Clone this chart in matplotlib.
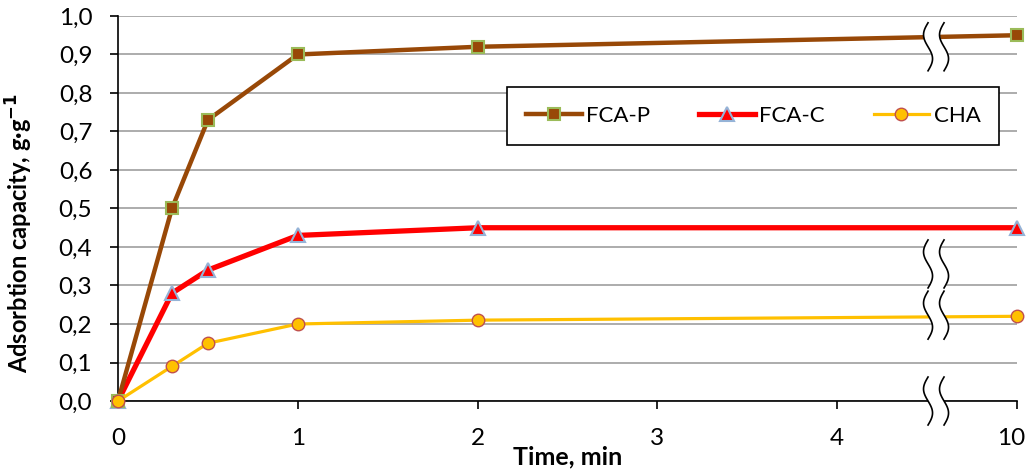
import numpy as np
import matplotlib
matplotlib.use('Agg')
import matplotlib.pyplot as plt
import matplotlib.transforms as mtransforms
from matplotlib.ticker import FuncFormatter

plt.rcParams['font.family'] = ['Lato', 'DejaVu Sans']

# data (time in min, last point is 10 min plotted after the axis break)
time_labels = ['0', '1', '2', '3', '4', '10']
x_pos = [0, 0.3, 0.5, 1, 2, 5]
fca_p = [0, 0.50, 0.73, 0.90, 0.92, 0.95]
fca_c = [0, 0.28, 0.34, 0.43, 0.45, 0.45]
cha = [0, 0.09, 0.15, 0.20, 0.21, 0.22]

fig = plt.figure(figsize=(10.27, 4.70), dpi=100)
ax = fig.add_axes([0.1149, 0.1468, 0.8754, 0.8192])

ax.plot(x_pos, fca_p, color='#984807', lw=3.2, marker='s', ms=9,
        mfc='#984807', mec='#9BBB59', mew=1.5, label='FCA-P', zorder=5, clip_on=False)
ax.plot(x_pos, fca_c, color='#FF0000', lw=3.8, marker='^', ms=10,
        mfc='#FF0000', mec='#95B3D7', mew=1.5, label='FCA-C', zorder=4, clip_on=False)
ax.plot(x_pos, cha, color='#FFC000', lw=2.3, marker='o', ms=9,
        mfc='#FFC000', mec='#C0504D', mew=1.0, label='CHA', zorder=6, clip_on=False)

ax.set_xlim(0, 5)
ax.set_ylim(0, 1.0)
ax.set_yticks(np.arange(0, 1.01, 0.1))
ax.yaxis.set_major_formatter(FuncFormatter(lambda v, p: ('%.1f' % v).replace('.', ',')))
ax.set_xticks(range(6))
ax.set_xticklabels(time_labels)
ax.tick_params(axis='both', direction='out', length=6, width=1.2, labelsize=17.5, color='black')
ax.tick_params(axis='x', pad=13.5)
ax.tick_params(axis='y', pad=12.5)

# last label sits a bit inside like in the original
last = ax.get_xticklabels()[-1]
last.set_transform(last.get_transform() + mtransforms.ScaledTranslation(-6 / 100, 0, fig.dpi_scale_trans))

ax.grid(axis='y', color='#A6A6A6', lw=1.3)
ax.set_axisbelow(True)
for s in ['top', 'right']:
    ax.spines[s].set_visible(False)
for s in ['left', 'bottom']:
    ax.spines[s].set_linewidth(1.2)

ax.set_xlabel('Time, min', fontsize=18, fontweight='bold')
ax.xaxis.set_label_coords(0.5, -0.115)
ax.set_ylabel('Adsorbtion capacity, g·g$^{\\mathbf{-1}}$', fontsize=17, fontweight='bold')
ax.yaxis.set_label_coords(-0.092, 0.436)

# axis break marks
dx = 5 / 899.0
dy = 1 / 385.0
t = np.linspace(-1, 1, 60)
for yc in [0.92, 0.356, 0.223, 0.0]:
    yy = yc + t * 24 * dy
    xw = -4.5 * dx * np.sin(np.pi * t)
    x1 = 4.505 + xw
    x2 = 4.505 + 16 * dx + xw
    ax.fill_betweenx(yy, x1, x2, color='white', zorder=7, clip_on=False, lw=0)
    ax.plot(x1, yy, color='black', lw=1.2, zorder=8, clip_on=False)
    ax.plot(x2, yy, color='black', lw=1.2, zorder=8, clip_on=False)

leg = ax.legend(loc='upper left', bbox_to_anchor=(0.433, 0.815), ncol=3, fontsize=16,
                frameon=True, fancybox=False, edgecolor='black', framealpha=1,
                handlelength=2.5, columnspacing=2.2, handletextpad=0.2,
                borderpad=0.85, borderaxespad=0)
leg.get_frame().set_linewidth(1.2)
leg.set_zorder(10)

fig.savefig('out.png', dpi=100)
